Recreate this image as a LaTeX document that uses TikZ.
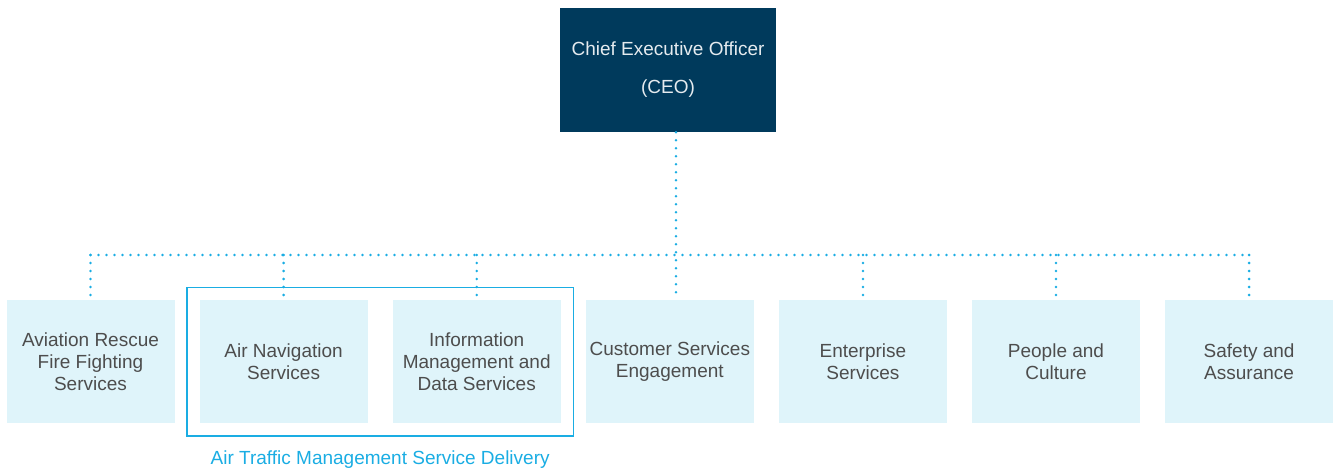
\documentclass[tikz,border=0pt]{standalone}
\usepackage{fontspec}
\setmainfont{Liberation Sans}
\usepackage{xcolor}
\usetikzlibrary{positioning,fit}
\definecolor{ceoblue}{HTML}{003A5C}
\definecolor{paleblue}{HTML}{DFF4FA}
\definecolor{lineblue}{HTML}{1AADE3}
\definecolor{textgrey}{HTML}{4D4D4D}
\tikzset{
    ceo-box/.style = {fill=ceoblue, text=white!90!ceoblue, rectangle, minimum width=216pt, minimum height=124pt, align=center, inner sep=0pt, font=\fontsize{19}{38}\selectfont},
    unit-box/.style = {fill=paleblue, text=textgrey, rectangle, minimum width=168pt, minimum height=123pt, align=center, inner sep=0pt, font=\fontsize{19}{22}\selectfont},
    group-box/.style = {draw=lineblue, line width=1.6pt, rectangle, inner sep=12.5pt},
    group-label/.style = {text=lineblue, font=\fontsize{19}{22}\selectfont},
    dot-line/.style = {draw=lineblue, line width=2.8pt, line cap=round, dash pattern=on 0pt off 8pt},
}

\begin{document}
\begin{tikzpicture}[x=1pt, y=-1pt]
\useasboundingbox (0,0) rectangle (1336,473);
\node [ceo-box] (ceo) at (668,70) {\rule{0pt}{6pt}Chief Executive Officer\\(CEO)};
\node [unit-box] (arff) at (90.5,361.5) {Aviation Rescue\\Fire Fighting\\Services};
\node [unit-box, right=24.7pt of arff] (ans) {Air Navigation\\Services};
\node [unit-box, right=24.7pt of ans] (ims) {Information\\Management and\\Data Services};
\node [unit-box, right=24.7pt of ims] (cse) {Customer Services\\Engagement};
\node [unit-box, right=24.7pt of cse] (ent) {Enterprise\\Services};
\node [unit-box, right=24.7pt of ent] (pac) {People and\\Culture};
\node [unit-box, right=24.7pt of pac] (saf) {Safety and\\Assurance};
\node [group-box, fit=(ans)(ims)] (atm) {};
\node [group-label] (atm-label) at (atm.south |- 0,460) {Air Traffic Management Service Delivery};
% dotted reporting lines
\coordinate (bus) at (676,255);
\draw [dot-line] (ceo.south -| bus) -- ([yshift=2pt]cse.north -| bus);
\draw [dot-line] (arff.north |- bus) -- (saf.north |- bus);
\foreach \unit in {arff,ans,ims,ent,pac,saf}
    \draw [dot-line] (\unit.north |- bus) -- ([yshift=4pt]\unit.north);
\end{tikzpicture}
\end{document}
